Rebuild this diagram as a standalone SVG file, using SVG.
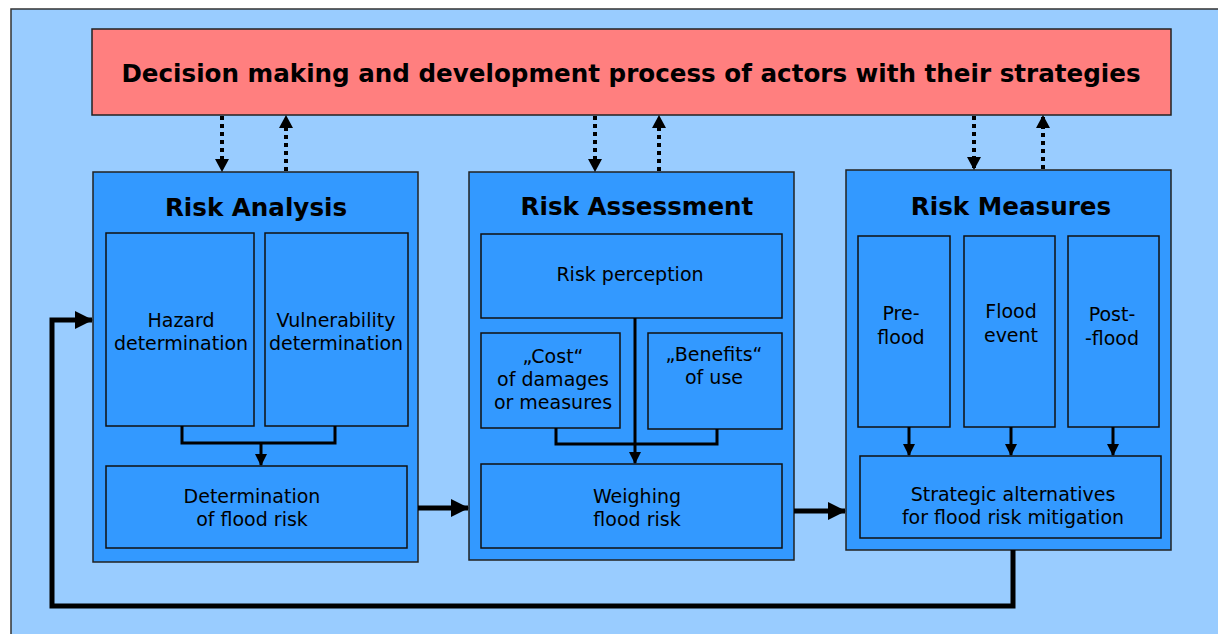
<svg xmlns="http://www.w3.org/2000/svg" width="1218" height="634" viewBox="0 0 1218 634">
<defs>
<style>
.bg{fill:#99ccff;stroke:#333;stroke-width:1.5}
.top{fill:#ff7f7f;stroke:#222;stroke-width:1.5}
.grp{fill:#3399ff;stroke:#222;stroke-width:1.5}
.box{fill:#3399ff;stroke:#111;stroke-width:1.5}
.t{font-family:"DejaVu Sans",Verdana,sans-serif;fill:#000;text-anchor:middle}
.title{font-size:24.6px;font-weight:bold}
.hd{font-size:24.6px;font-weight:bold}
.lb{font-size:19px}
.thin{fill:none;stroke:#000;stroke-width:3}
.thick{fill:none;stroke:#000;stroke-width:5}
.dot{fill:none;stroke:#000;stroke-width:4;stroke-dasharray:4 4}
</style>
<marker id="ah" markerWidth="12" markerHeight="12" refX="11" refY="6" orient="auto" markerUnits="userSpaceOnUse"><path d="M0,0 L12,6 L0,12 z" fill="#000"/></marker>
<marker id="ahd" markerWidth="13" markerHeight="14" refX="12" refY="7" orient="auto" markerUnits="userSpaceOnUse"><path d="M0,0 L13,7 L0,14 z" fill="#000"/></marker>
<marker id="ahb" markerWidth="18" markerHeight="18" refX="17" refY="9" orient="auto" markerUnits="userSpaceOnUse"><path d="M0,0 L18,9 L0,18 z" fill="#000"/></marker>
</defs>
<rect class="bg" x="11" y="9" width="1210" height="630"/>
<g id="decision">
<rect class="top" x="92" y="29" width="1079" height="86"/>
<text class="t title" x="631" y="82">Decision making and development process of actors with their strategies</text>
</g>
<g id="risk-analysis">
<rect class="grp" x="93" y="172" width="325" height="390"/>
<text class="t hd" x="256" y="216">Risk Analysis</text>
</g>
<g id="hazard"><rect class="box" x="106" y="233" width="148" height="193"/>
<text class="t lb" x="181" y="327">Hazard</text><text class="t lb" x="181" y="350">determination</text></g>
<g id="vulnerability"><rect class="box" x="265" y="233" width="143" height="193"/>
<text class="t lb" x="336" y="327">Vulnerability</text><text class="t lb" x="336" y="350">determination</text></g>
<g id="determination"><rect class="box" x="106" y="466" width="301" height="82"/>
<text class="t lb" x="252" y="503">Determination</text><text class="t lb" x="252" y="526">of flood risk</text></g>
<g id="risk-assessment">
<rect class="grp" x="469" y="172" width="325" height="388"/>
<text class="t hd" x="637" y="215">Risk Assessment</text>
</g>
<g id="perception"><rect class="box" x="481" y="234" width="301" height="84"/>
<text class="t lb" x="630" y="281">Risk perception</text></g>
<g id="cost"><rect class="box" x="481" y="333" width="139" height="95"/>
<text class="t lb" x="553" y="363">„Cost“</text><text class="t lb" x="553" y="386">of damages</text><text class="t lb" x="553" y="409">or measures</text></g>
<g id="benefits"><rect class="box" x="648" y="333" width="134" height="96"/>
<text class="t lb" x="714" y="361">„Benefits“</text><text class="t lb" x="714" y="384">of use</text></g>
<g id="weighing"><rect class="box" x="481" y="464" width="301" height="84"/>
<text class="t lb" x="637" y="503">Weighing</text><text class="t lb" x="637" y="526">flood risk</text></g>
<g id="risk-measures">
<rect class="grp" x="846" y="170" width="325" height="380"/>
<text class="t hd" x="1011" y="215">Risk Measures</text>
</g>
<g id="pre-flood"><rect class="box" x="858" y="236" width="92" height="191"/>
<text class="t lb" x="901" y="320">Pre-</text><text class="t lb" x="901" y="344">flood</text></g>
<g id="flood-event"><rect class="box" x="964" y="236" width="91" height="191"/>
<text class="t lb" x="1011" y="318">Flood</text><text class="t lb" x="1011" y="342">event</text></g>
<g id="post-flood"><rect class="box" x="1068" y="236" width="91" height="191"/>
<text class="t lb" x="1112" y="321">Post-</text><text class="t lb" x="1112" y="345">-flood</text></g>
<g id="strategic"><rect class="box" x="860" y="456" width="301" height="82"/>
<text class="t lb" x="1013" y="501">Strategic alternatives</text><text class="t lb" x="1013" y="524">for flood risk mitigation</text></g>
<g id="connectors">
<path class="dot" d="M222,116 V171" marker-end="url(#ahd)"/>
<path class="dot" d="M286,171 V116" marker-end="url(#ahd)"/>
<path class="dot" d="M595,116 V171" marker-end="url(#ahd)"/>
<path class="dot" d="M659,171 V116" marker-end="url(#ahd)"/>
<path class="dot" d="M974,116 V169" marker-end="url(#ahd)"/>
<path class="dot" d="M1043,169 V116" marker-end="url(#ahd)"/>
<path class="thin" d="M182,426 V443 H335 V426"/>
<path class="thin" d="M261,443 V465" marker-end="url(#ah)"/>
<path class="thin" d="M556,428 V444 H717 V429"/>
<path class="thin" d="M635,318 V463" marker-end="url(#ah)"/>
<path class="thin" d="M909,427 V455" marker-end="url(#ah)"/>
<path class="thin" d="M1011,427 V455" marker-end="url(#ah)"/>
<path class="thin" d="M1113,427 V455" marker-end="url(#ah)"/>
<path class="thick" d="M418,508 H468" marker-end="url(#ahb)"/>
<path class="thick" d="M794,511 H845" marker-end="url(#ahb)"/>
<path class="thick" d="M1013,550 V606 H52 V320 H92" marker-end="url(#ahb)"/>
</g>
</svg>
